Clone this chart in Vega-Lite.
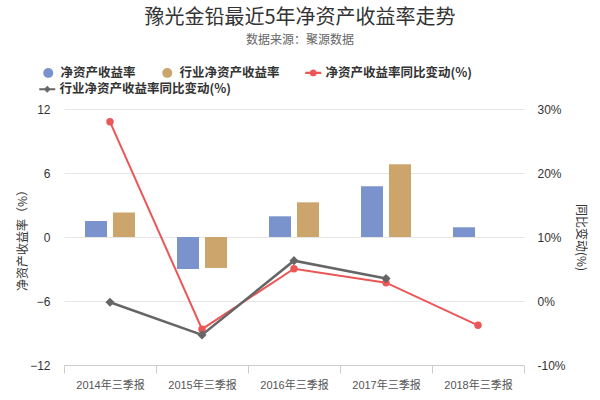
{
  "$schema": "https://vega.github.io/schema/vega-lite/v6.json",
  "width": 460,
  "height": 256,
  "autosize": {"type": "none"},
  "padding": {"left": 64, "top": 109, "right": 76, "bottom": 35},
  "background": "#ffffff",
  "config": {
    "font": "Liberation Sans, Noto Sans CJK SC, sans-serif",
    "view": {"stroke": null}
  },
  "title": {
    "text": "豫光金铅最近5年净资产收益率走势",
    "subtitle": "数据来源：聚源数据",
    "anchor": "middle",
    "dx": 6,
    "font": "Noto Sans CJK SC",
    "fontSize": 20,
    "fontWeight": "normal",
    "color": "#333333",
    "subtitleFont": "Noto Sans CJK SC",
    "subtitleFontSize": 12,
    "subtitleColor": "#666666",
    "subtitlePadding": 7,
    "offset": 21
  },
  "data": {
    "values": [
      {"period": "2014年三季报", "series": "净资产收益率", "value": 1.5},
      {"period": "2015年三季报", "series": "净资产收益率", "value": -3.0},
      {"period": "2016年三季报", "series": "净资产收益率", "value": 1.94},
      {"period": "2017年三季报", "series": "净资产收益率", "value": 4.75},
      {"period": "2018年三季报", "series": "净资产收益率", "value": 0.91},
      {"period": "2014年三季报", "series": "行业净资产收益率", "value": 2.29},
      {"period": "2015年三季报", "series": "行业净资产收益率", "value": -2.9},
      {"period": "2016年三季报", "series": "行业净资产收益率", "value": 3.25},
      {"period": "2017年三季报", "series": "行业净资产收益率", "value": 6.81},
      {"period": "2014年三季报", "series": "净资产收益率同比变动(%)", "value": 28.0},
      {"period": "2015年三季报", "series": "净资产收益率同比变动(%)", "value": -4.4},
      {"period": "2016年三季报", "series": "净资产收益率同比变动(%)", "value": 5.05},
      {"period": "2017年三季报", "series": "净资产收益率同比变动(%)", "value": 2.86},
      {"period": "2018年三季报", "series": "净资产收益率同比变动(%)", "value": -3.8},
      {"period": "2014年三季报", "series": "行业净资产收益率同比变动(%)", "value": -0.2},
      {"period": "2015年三季报", "series": "行业净资产收益率同比变动(%)", "value": -5.3},
      {"period": "2016年三季报", "series": "行业净资产收益率同比变动(%)", "value": 6.3},
      {"period": "2017年三季报", "series": "行业净资产收益率同比变动(%)", "value": 3.5}
    ]
  },
  "encoding": {
    "x": {
      "field": "period",
      "type": "nominal",
      "sort": null,
      "scale": {"paddingInner": 0, "paddingOuter": 0},
      "axis": {
        "title": null,
        "labelAngle": 0,
        "tickBand": "extent",
        "domainColor": "#cccccc",
        "tickColor": "#cccccc",
        "tickSize": 8,
        "labelFontSize": 11,
        "labelColor": "#555555",
        "labelPadding": 6,
        "grid": false
      }
    }
  },
  "layer": [
    {
      "transform": [{"filter": "datum.series === '净资产收益率' || datum.series === '行业净资产收益率'"}],
      "mark": {"type": "bar"},
      "encoding": {
        "xOffset": {
          "field": "series",
          "type": "nominal",
          "sort": ["净资产收益率", "行业净资产收益率"],
          "scale": {"paddingInner": 0.214, "paddingOuter": 0.75}
        },
        "y": {
          "field": "value",
          "type": "quantitative",
          "scale": {"domain": [-12, 12], "nice": false, "zero": false},
          "axis": {
            "title": "净资产收益率（%）",
            "values": [-12, -6, 0, 6, 12],
            "domain": false,
            "ticks": false,
            "grid": true,
            "gridColor": "#e6e6e6",
            "labelPadding": 14,
            "labelFontSize": 12,
            "labelColor": "#333333",
            "titleFont": "Noto Sans CJK SC",
            "titleFontSize": 12,
            "titleFontWeight": "normal",
            "titleColor": "#333333",
            "titlePadding": 0
          }
        },
        "color": {
          "field": "series",
          "type": "nominal",
          "scale": {
            "domain": ["净资产收益率", "行业净资产收益率", "净资产收益率同比变动(%)"],
            "range": ["#7b93cc", "#cba56b", "#ec5656"]
          },
          "legend": {
            "title": null,
            "orient": "none",
            "legendX": -22,
            "legendY": -42.5,
            "direction": "horizontal",
            "columns": 3,
            "symbolSize": 144,
            "symbolStrokeWidth": 0,
            "symbolOpacity": 1,
            "labelFont": "Noto Sans CJK SC",
            "labelFontSize": 12.5,
            "labelFontWeight": "bold",
            "labelColor": "#333333",
            "labelOffset": 6,
            "labelLimit": 300,
            "columnPadding": 25,
            "padding": 0,
            "encode": {
              "symbols": {
                "update": {
                  "shape": {"signal": "indexof(['净资产收益率','行业净资产收益率'], datum.value) >= 0 ? 'M-0.833,0A0.833,0.833 0 1,1 0.833,0A0.833,0.833 0 1,1 -0.833,0Z' : 'M-1.333,-0.167L1.333,-0.167L1.333,0.167L-1.333,0.167Z M-0.583,0A0.583,0.583 0 1,1 0.583,0A0.583,0.583 0 1,1 -0.583,0Z'"}
                }
              }
            }
          }
        }
      }
    },
    {
      "encoding": {
        "y": {
          "field": "value",
          "type": "quantitative",
          "scale": {"domain": [-10, 30], "nice": false, "zero": false},
          "axis": {
            "orient": "right",
            "title": "同比变动(%)",
            "values": [-10, 0, 10, 20, 30],
            "labelExpr": "datum.value + '%'",
            "domain": false,
            "ticks": false,
            "grid": false,
            "labelPadding": 13,
            "labelFontSize": 12,
            "labelColor": "#333333",
            "titleFont": "Noto Sans CJK SC",
            "titleFontSize": 12,
            "titleFontWeight": "normal",
            "titleColor": "#333333",
            "titlePadding": 8
          }
        }
      },
      "layer": [
        {
          "transform": [{"filter": "datum.series === '净资产收益率同比变动(%)'"}],
          "mark": {"type": "line", "color": "#ec5656", "strokeWidth": 2, "point": {"filled": true, "size": 55, "shape": "circle", "color": "#ec5656"}}
        },
        {
          "transform": [{"filter": "datum.series === '行业净资产收益率同比变动(%)'"}],
          "mark": {"type": "line", "color": "#666666", "strokeWidth": 2.5, "point": {"filled": true, "size": 40, "shape": "diamond", "color": "#666666"}},
          "encoding": {
            "stroke": {
              "field": "series",
              "type": "nominal",
              "scale": {"domain": ["行业净资产收益率同比变动(%)"], "range": ["#666666"]},
              "legend": {
                "title": null,
                "orient": "none",
                "legendX": -23,
                "legendY": -26,
                "direction": "horizontal",
                "symbolSize": 144,
                "symbolStrokeWidth": 0,
                "symbolOpacity": 1,
                "labelFont": "Noto Sans CJK SC",
                "labelFontSize": 12.5,
                "labelFontWeight": "bold",
                "labelColor": "#333333",
                "labelOffset": 6,
                "labelLimit": 300,
                "padding": 0,
                "encode": {
                  "symbols": {
                    "update": {
                      "shape": {"value": "M-1.333,-0.167L1.333,-0.167L1.333,0.167L-1.333,0.167Z M0,-0.583L0.583,0L0,0.583L-0.583,0Z"},
                      "fill": {"value": "#666666"},
                      "strokeWidth": {"value": 0}
                    }
                  }
                }
              }
            }
          }
        }
      ]
    }
  ],
  "resolve": {"scale": {"y": "independent"}}
}
